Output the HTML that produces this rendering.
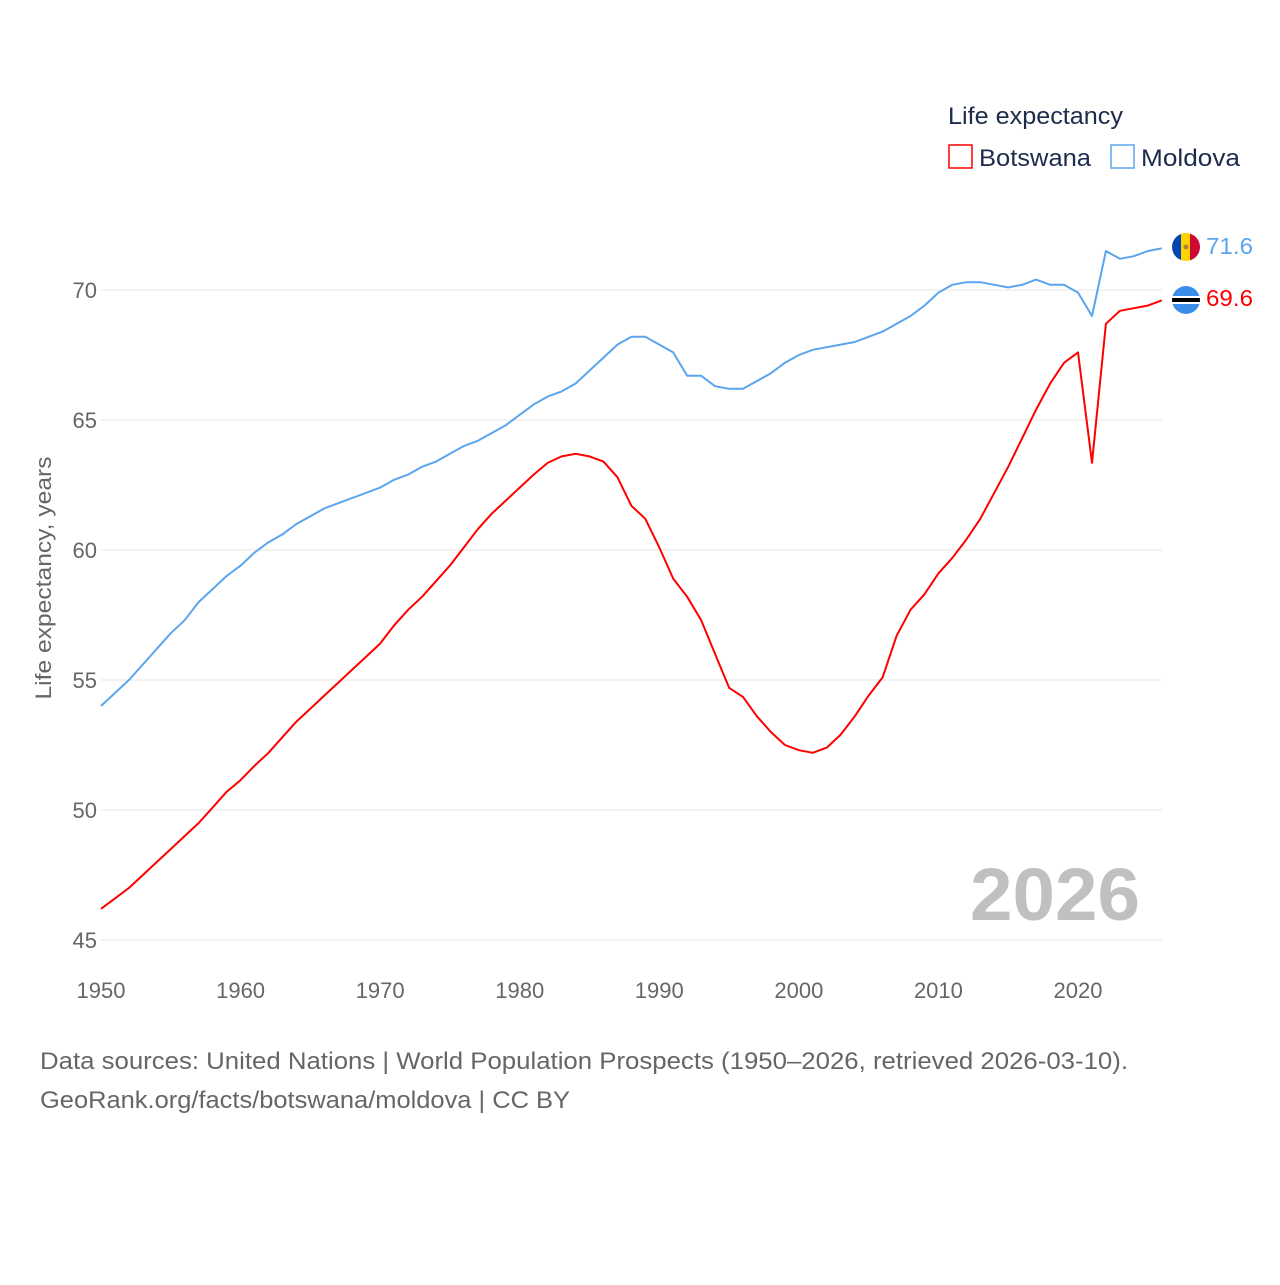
<!DOCTYPE html>
<html><head><meta charset="utf-8"><style>
body{margin:0;background:#fff;width:1280px;height:1280px;overflow:hidden;font-family:"Liberation Sans",sans-serif}
svg text{font-family:"Liberation Sans",sans-serif}
</style></head><body>
<svg id="chart" width="1280" height="1280" viewBox="0 0 1280 1280">
<g id="grid"></g>
<g id="yt"></g>
<g id="xt"></g>
<text transform="translate(51,578) rotate(-90)" text-anchor="middle" font-size="22" fill="#666" textLength="243" lengthAdjust="spacingAndGlyphs">Life expectancy, years</text>
<text x="970" y="920" font-size="74" font-weight="bold" fill="#c0c0c0" textLength="170" lengthAdjust="spacingAndGlyphs">2026</text>
<g id="series"></g>
<g>
<text x="948" y="124" font-size="24" fill="#1d2b4c" textLength="175" lengthAdjust="spacingAndGlyphs">Life expectancy</text>
<rect x="949" y="145" width="23" height="23" fill="none" stroke="#ff0000" stroke-width="1.5"/>
<text x="979" y="166" font-size="24" fill="#1d2b4c" textLength="112" lengthAdjust="spacingAndGlyphs">Botswana</text>
<rect x="1111" y="145" width="23" height="23" fill="none" stroke="#5aa5ee" stroke-width="1.5"/>
<text x="1141" y="166" font-size="24" fill="#1d2b4c" textLength="99" lengthAdjust="spacingAndGlyphs">Moldova</text>
</g>
<defs>
<clipPath id="c1"><circle cx="1186" cy="247" r="14"/></clipPath>
<clipPath id="c2"><circle cx="1186" cy="300" r="14"/></clipPath>
</defs>
<g clip-path="url(#c1)">
<rect x="1172" y="233" width="10" height="28" fill="#0046ae"/>
<rect x="1181" y="233" width="10" height="28" fill="#ffd200"/>
<rect x="1190" y="233" width="10" height="28" fill="#cc092f"/>
<circle cx="1186" cy="247" r="2.5" fill="#b07e3c"/>
</g>
<g clip-path="url(#c2)">
<rect x="1172" y="286" width="28" height="28" fill="#3a8ee8"/>
<rect x="1172" y="296" width="28" height="8" fill="#fff"/>
<rect x="1172" y="298" width="28" height="4" fill="#000"/>
</g>
<text x="1206" y="254" font-size="23" fill="#5aa5ee" textLength="47" lengthAdjust="spacingAndGlyphs">71.6</text>
<text x="1206" y="306" font-size="23" fill="#ff0000" textLength="47" lengthAdjust="spacingAndGlyphs">69.6</text>
<text x="40" y="1069" font-size="24" fill="#666" textLength="1088" lengthAdjust="spacingAndGlyphs">Data sources: United Nations | World Population Prospects (1950–2026, retrieved 2026-03-10).</text>
<text x="40" y="1108" font-size="24" fill="#666" textLength="530" lengthAdjust="spacingAndGlyphs">GeoRank.org/facts/botswana/moldova | CC BY</text>
</svg>
<script>
const years=[];for(let y=1950;y<=2026;y++)years.push(y);
const moldova=[54.0,54.5,55.0,55.6,56.2,56.8,57.3,58.0,58.5,59.0,59.4,59.9,60.3,60.6,61.0,61.3,61.6,61.8,62.0,62.2,62.4,62.7,62.9,63.2,63.4,63.7,64.0,64.2,64.5,64.8,65.2,65.6,65.9,66.1,66.4,66.9,67.4,67.9,68.2,68.2,67.9,67.6,66.7,66.7,66.3,66.2,66.2,66.5,66.8,67.2,67.5,67.7,67.8,67.9,68.0,68.2,68.4,68.7,69.0,69.4,69.9,70.2,70.3,70.3,70.2,70.1,70.2,70.4,70.2,70.2,69.9,69.0,71.5,71.2,71.3,71.5,71.6];
const botswana=[46.2,46.6,47.0,47.5,48.0,48.5,49.0,49.5,50.1,50.7,51.15,51.7,52.2,52.8,53.4,53.9,54.4,54.9,55.4,55.9,56.4,57.1,57.7,58.2,58.8,59.4,60.1,60.8,61.4,61.9,62.4,62.9,63.35,63.6,63.7,63.6,63.4,62.8,61.7,61.2,60.1,58.9,58.2,57.3,56.0,54.7,54.35,53.6,53.0,52.5,52.3,52.2,52.4,52.9,53.6,54.4,55.1,56.7,57.7,58.3,59.1,59.7,60.4,61.2,62.2,63.2,64.3,65.4,66.4,67.2,67.6,63.35,68.7,69.2,69.3,69.4,69.6];
const yTicks=[45,50,55,60,65,70];
const xTicks=[1950,1960,1970,1980,1990,2000,2010,2020];
const NS="http://www.w3.org/2000/svg";
const X=v=>101+(v-1950)*(977/70);
const Y=v=>940-(v-45)*26;
const grid=document.getElementById('grid'),yt=document.getElementById('yt'),xt=document.getElementById('xt'),ser=document.getElementById('series');
yTicks.forEach(t=>{
 const l=document.createElementNS(NS,'line');
 
 
 l.setAttribute('x1',101);l.setAttribute('x2',1162);l.setAttribute('y1',Y(t));l.setAttribute('y2',Y(t));
 l.setAttribute('stroke','#e6e6e6');l.setAttribute('stroke-width','1');grid.appendChild(l);
 const tx=document.createElementNS(NS,'text');
 
 
 tx.setAttribute('x',97);tx.setAttribute('y',Y(t)+8);tx.setAttribute('text-anchor','end');tx.setAttribute('font-size','22');tx.setAttribute('fill','#666');
 tx.textContent=t;yt.appendChild(tx);
});
xTicks.forEach(t=>{
 const tx=document.createElementNS(NS,'text');
 
 
 tx.setAttribute('x',X(t));tx.setAttribute('y',998);tx.setAttribute('text-anchor','middle');tx.setAttribute('font-size','22');tx.setAttribute('fill','#666');
 tx.textContent=t;xt.appendChild(tx);
});
function line(vals,color,name){
 const p=document.createElementNS(NS,'path');
 
 
 p.setAttribute('d',vals.map((v,i)=>(i?'L':'M')+X(years[i]).toFixed(1)+','+Y(v).toFixed(1)).join(''));
 p.setAttribute('fill','none');p.setAttribute('stroke',color);p.setAttribute('stroke-width','2');p.setAttribute('stroke-linejoin','round');
 ser.appendChild(p);
}
line(moldova,'#5aa5ee','moldova-line');
line(botswana,'#ff0000','botswana-line');
</script>
</body></html>
